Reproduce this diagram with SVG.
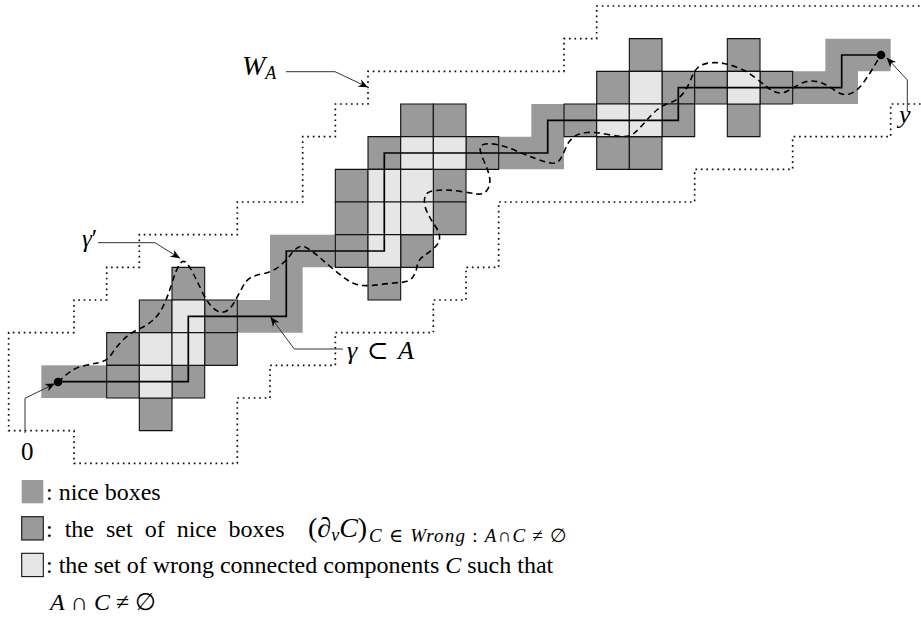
<svg xmlns="http://www.w3.org/2000/svg" width="921" height="621" viewBox="0 0 921 621">
<style>
.nice{fill:#9a9a9a;stroke:none}
.dk{fill:#9a9a9a;stroke:#111;stroke-width:1.1;vector-effect:non-scaling-stroke}
.lt{fill:#e6e6e6;stroke:#111;stroke-width:1.1;vector-effect:non-scaling-stroke}
.wa{fill:none;stroke:#111;stroke-width:1.7;stroke-dasharray:1.7 3.75}
.gam{fill:none;stroke:#000;stroke-width:1.7;stroke-linejoin:miter}
.gp{fill:none;stroke:#000;stroke-width:1.6;stroke-dasharray:6 4}
.ptr{fill:none;stroke:#333;stroke-width:1;marker-end:url(#ah)}
.t{font-family:"Liberation Serif","DejaVu Serif",serif;fill:#000}
.m{font-style:italic}
</style>
<defs>
<marker id="ah" viewBox="-10 -5 11 10" refX="0" refY="0" markerWidth="11" markerHeight="10" markerUnits="userSpaceOnUse" orient="auto">
<path d="M0,0 L-9.5,-4 L-6.8,0 L-9.5,4 Z" fill="#000"/>
</marker>
</defs>

<g id="grid" transform="translate(8.67,6) scale(32.667)">
<g id="nice-strips">
<rect class="nice" x="1" y="11" width="2" height="1"/>
<path class="nice" d="M8,7 H10 V8 H9 V10 H7 V9 H8 Z"/>
<path class="nice" d="M16,3 H17 V5 H15 V4 H16 Z"/>
<path class="nice" d="M25,1 H27 V2 H26 V3 H24 V2 H25 Z"/>
</g>
<g id="cluster-1">
<rect class="dk" x="5" y="8" width="1" height="1"/>
<rect class="dk" x="4" y="9" width="1" height="1"/>
<rect class="dk" x="6" y="9" width="1" height="1"/>
<rect class="dk" x="3" y="10" width="1" height="1"/>
<rect class="dk" x="6" y="10" width="1" height="1"/>
<rect class="dk" x="3" y="11" width="1" height="1"/>
<rect class="dk" x="5" y="11" width="1" height="1"/>
<rect class="dk" x="4" y="12" width="1" height="1"/>
<rect class="lt" x="5" y="9" width="1" height="1"/>
<rect class="lt" x="4" y="10" width="1" height="1"/>
<rect class="lt" x="5" y="10" width="1" height="1"/>
<rect class="lt" x="4" y="11" width="1" height="1"/>
</g>
<g id="cluster-2">
<rect class="dk" x="12" y="3" width="1" height="1"/>
<rect class="dk" x="13" y="3" width="1" height="1"/>
<rect class="dk" x="11" y="4" width="1" height="1"/>
<rect class="dk" x="14" y="4" width="1" height="1"/>
<rect class="dk" x="10" y="5" width="1" height="1"/>
<rect class="dk" x="13" y="5" width="1" height="1"/>
<rect class="dk" x="10" y="6" width="1" height="1"/>
<rect class="dk" x="13" y="6" width="1" height="1"/>
<rect class="dk" x="10" y="7" width="1" height="1"/>
<rect class="dk" x="12" y="7" width="1" height="1"/>
<rect class="dk" x="11" y="8" width="1" height="1"/>
<rect class="lt" x="12" y="4" width="1" height="1"/>
<rect class="lt" x="13" y="4" width="1" height="1"/>
<rect class="lt" x="11" y="5" width="1" height="1"/>
<rect class="lt" x="12" y="5" width="1" height="1"/>
<rect class="lt" x="11" y="6" width="1" height="1"/>
<rect class="lt" x="12" y="6" width="1" height="1"/>
<rect class="lt" x="11" y="7" width="1" height="1"/>
</g>
<g id="cluster-3">
<rect class="dk" x="19" y="1" width="1" height="1"/>
<rect class="dk" x="18" y="2" width="1" height="1"/>
<rect class="dk" x="20" y="2" width="1" height="1"/>
<rect class="dk" x="17" y="3" width="1" height="1"/>
<rect class="dk" x="20" y="3" width="1" height="1"/>
<rect class="dk" x="18" y="4" width="1" height="1"/>
<rect class="dk" x="19" y="4" width="1" height="1"/>
<rect class="lt" x="19" y="2" width="1" height="1"/>
<rect class="lt" x="18" y="3" width="1" height="1"/>
<rect class="lt" x="19" y="3" width="1" height="1"/>
</g>
<g id="cluster-4">
<rect class="dk" x="22" y="1" width="1" height="1"/>
<rect class="dk" x="21" y="2" width="1" height="1"/>
<rect class="dk" x="23" y="2" width="1" height="1"/>
<rect class="dk" x="22" y="3" width="1" height="1"/>
<rect class="lt" x="22" y="2" width="1" height="1"/>
</g>
</g>

<g id="region-WA">
<polyline class="wa" points="925,6 596.67,6 596.67,38.67 564,38.67 564,71.33 368,71.33 368,104 335.33,104 335.33,136.67 302.67,136.67 302.67,202 237.33,202 237.33,234.67 139.33,234.67 139.33,267.33 106.67,267.33 106.67,300 74,300 74,332.67 8.67,332.67 8.67,430.67 74,430.67 74,463.33 237.33,463.33 237.33,398 270,398 270,365.33 335.33,365.33 335.33,332.67 433.33,332.67 433.33,300 466,300 466,267.33 498.67,267.33 498.67,202 694.67,202 694.67,169.33 792.67,169.33 792.67,136.67 890.67,136.67 890.67,104 925,104"/>
</g>

<g id="connectors">
<path id="gamma" class="gam" d="M58,381.7 H188.3 V316.3 H286.3 V251 H384.3 V153 H547.7 V120.3 H678.3 V87.7 H841.7 V55 H881"/>
<path id="gamma-prime" class="gp" d="M58,382 L66,375 Q74,368 83,366 Q92,364 99.5,362.5 Q107,361 112,353.5 Q117,346 123.5,339.5 Q130,333 138,329.5 Q146,326 152.5,320.5 Q159,315 163.5,305.5 Q168,296 172,283 Q176,270 179.5,264.5 Q183,259 186.5,263 Q190,267 194,275 Q198,283 202.5,292.5 Q207,302 212.5,307.5 Q218,313 223.5,312 Q229,311 233.5,303.5 Q238,296 242,288 Q246,280 251,277.5 Q256,275 264,273.5 Q272,272 279,266.5 Q286,261 290,255.5 Q294,250 298,247.5 Q302,245 307,248 Q312,251 318.5,256.5 Q325,262 332.5,268.5 Q340,275 347.5,280 Q355,285 362.5,285.5 Q370,286 381,284.5 Q392,283 400.5,282.5 Q409,282 412.5,277.5 Q416,273 417,266.5 Q418,260 423,256.5 Q428,253 433.5,248.5 Q439,244 439.5,238.5 Q440,233 435.5,226.5 Q431,220 427.5,213 Q424,206 424.5,199.5 Q425,193 430.5,191.5 Q436,190 444,190 Q452,190 461,191.5 Q470,193 477,194 Q484,195 487.5,189.5 Q491,184 489.5,177 Q488,170 485,163.5 Q482,157 480.5,151.5 Q479,146 483.5,144.5 Q488,143 496.5,144.5 Q505,146 515.5,150.5 Q526,155 535.5,158.5 Q545,162 551,163 Q557,164 560,159.5 Q563,155 565.5,148.5 Q568,142 573,137.5 Q578,133 587,132.5 Q596,132 605.5,134 Q615,136 622.5,136.5 Q630,137 635,132.5 Q640,128 646,121 Q652,114 657.5,109.5 Q663,105 670.5,102.5 Q678,100 683,93.5 Q688,87 691,79 Q694,71 698,67.5 Q702,64 709,63 Q716,62 724,63.5 Q732,65 740,68.5 Q748,72 755,77.5 Q762,83 767,87 Q772,91 777,92.5 Q782,94 787.5,91 Q793,88 799,84.5 Q805,81 811.5,81 Q818,81 824,84 Q830,87 836.5,91.5 Q843,96 849.5,94 Q856,92 861.5,85 Q867,78 871.5,70.5 Q876,63 878.5,59 L881,55"/>
<circle cx="58" cy="382" r="4.3" fill="#000"/>
<circle cx="881" cy="55" r="4.3" fill="#000"/>
<path class="ptr" d="M286,71.7 H335 L368,87.3"/>
<path class="ptr" d="M98,242.7 H155 L180,258.3"/>
<path class="ptr" d="M343,349 H294.3 L270.5,317"/>
<path class="ptr" d="M25,433 V398.3 L55,383.5"/>
<path class="ptr" d="M907.3,111.7 V80 L886.7,57.7"/>
</g>

<g id="labels">
<text class="t m" x="242" y="75" font-size="28">W<tspan font-size="18" dy="4">A</tspan></text>
<text class="t m" x="82" y="247" font-size="25">γ<tspan font-style="normal">′</tspan></text>
<text class="t" x="347" y="359.3" font-size="26" word-spacing="3"><tspan class="m">γ</tspan> ⊂ <tspan class="m">A</tspan></text>
<text class="t" x="21" y="460" font-size="25">0</text>
<text class="t m" x="899" y="123" font-size="26">y</text>
</g>

<g id="legend">
<rect x="21.7" y="480" width="21.6" height="23.3" fill="#9a9a9a"/>
<rect x="21.7" y="516.7" width="21.6" height="23.3" fill="#9a9a9a" stroke="#111" stroke-width="1.1"/>
<rect x="21.7" y="553.3" width="21.6" height="23.3" fill="#e6e6e6" stroke="#111" stroke-width="1.1"/>
<text class="t" x="46" y="500" font-size="24">: nice boxes</text>
<text class="t" x="46" y="536.7" font-size="24" word-spacing="6">: the set of nice boxes</text>
<text class="t" x="308" y="536.7" font-size="28">(∂<tspan class="m" font-size="18" dy="4">v</tspan><tspan class="m" dy="-4">C</tspan>)</text>
<text class="t" x="369" y="542" font-size="19" textLength="198" lengthAdjust="spacing"><tspan class="m">C</tspan> ∈ <tspan class="m">Wrong</tspan> : <tspan class="m">A</tspan>∩<tspan class="m">C</tspan> ≠ ∅</text>
<text class="t" x="46" y="573.3" font-size="24">: the set of wrong connected components <tspan class="m">C</tspan> such that</text>
<text class="t" x="50" y="610" font-size="24"><tspan class="m">A</tspan> ∩ <tspan class="m">C</tspan> ≠ ∅</text>
</g>
</svg>
